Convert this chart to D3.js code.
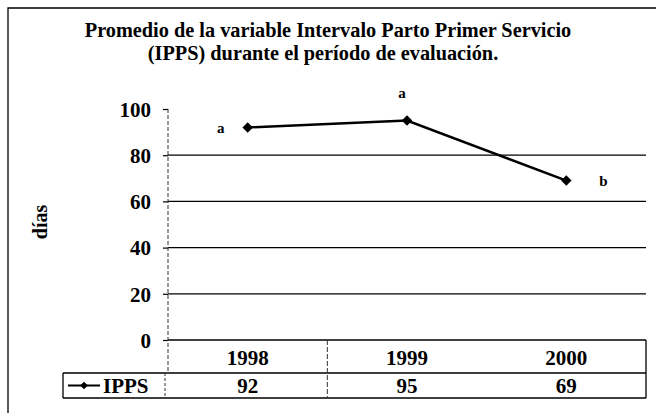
<!DOCTYPE html>
<html lang="es">
<head>
  <meta charset="utf-8">
  <title>IPPS</title>
  <script src="https://d3js.org/d3.v7.min.js"></script>
  <style>
    body { margin: 0; background: #fff; }
    svg text { font-family: "Liberation Serif", "DejaVu Serif", serif; font-weight: bold; fill: #000; }
  </style>
</head>
<body>
<svg width="656" height="413"></svg>
<script>
// data
var years = ["1998", "1999", "2000"];
var ipps = [92, 95, 69];
var letters = ["a", "a", "b"];
var yTicks = [0, 20, 40, 60, 80, 100];
var seriesName = "IPPS";

var svg = d3.select("svg");

// chart frame (right / bottom run off the page)
svg.append("path")
    .attr("d", "M8,420 V8 H670")
    .attr("fill", "none")
    .attr("stroke", "#000")
    .attr("stroke-width", 1.3);

// title
var title = svg.append("text")
    .attr("text-anchor", "middle")
    .style("font-size", "20.3px");
title.append("tspan").attr("x", 328).attr("y", 37)
    .text("Promedio de la variable Intervalo Parto Primer Servicio");
title.append("tspan").attr("x", 323).attr("y", 60)
    .text("(IPPS) durante el período de evaluación.");

var plotL = 168, plotR = 646, plotT = 109, plotB = 340;
var row1B = 373, row2B = 398, legendL = 63;

var x = d3.scaleBand().domain(years).range([plotL, plotR]);
var y = d3.scaleLinear().domain([0, 100]).range([plotB, plotT]);

// gridlines (none at 100)
svg.append("g").selectAll("line")
    .data(yTicks.filter(function(d) { return d < 100; }))
    .enter().append("line")
      .attr("x1", plotL).attr("x2", plotR)
      .attr("y1", function(d) { return y(d); })
      .attr("y2", function(d) { return y(d); })
      .attr("stroke", "#000")
      .attr("stroke-width", 1.3);

// y axis
var yAxis = svg.append("g")
    .attr("transform", "translate(" + plotL + ",0)")
    .call(d3.axisLeft(y).tickValues(yTicks).tickSize(5).tickPadding(12));
yAxis.select(".domain").remove();
yAxis.selectAll(".tick line").attr("stroke", "#000").attr("stroke-width", 1.2);
yAxis.selectAll(".tick text")
    .style("font-size", "21px")
    .style("font-family", "'Liberation Serif', serif")
    .style("font-weight", "bold")
    .attr("dy", "0.35em");

// dashed axis line continuing down through the year row
svg.append("line")
    .attr("x1", plotL).attr("x2", plotL)
    .attr("y1", plotT).attr("y2", row1B)
    .attr("stroke", "#333")
    .attr("stroke-width", 1)
    .attr("stroke-dasharray", "4,2");

// y axis title
svg.append("text")
    .attr("transform", "translate(47,222) rotate(-90)")
    .attr("text-anchor", "middle")
    .style("font-size", "20px")
    .text("días");

// data table below the plot
svg.append("path")
    .attr("d", "M" + legendL + "," + row1B + " H" + plotR +
               " M" + legendL + "," + row2B + " H" + plotR +
               " M" + legendL + "," + row1B + " V" + row2B +
               " M" + plotR + "," + plotB + " V" + row2B)
    .attr("fill", "none")
    .attr("stroke", "#000")
    .attr("stroke-width", 1.3);

svg.append("line")
    .attr("x1", x("1999")).attr("x2", x("1999"))
    .attr("y1", plotB).attr("y2", row2B)
    .attr("stroke", "#333")
    .attr("stroke-width", 1)
    .attr("stroke-dasharray", "5,2");

svg.append("g").selectAll("text")
    .data(years)
    .enter().append("text")
      .attr("x", function(d) { return x(d) + x.bandwidth() / 2; })
      .attr("y", (plotB + row1B) / 2 + 1)
      .attr("dy", "0.35em")
      .attr("text-anchor", "middle")
      .style("font-size", "21px")
      .text(function(d) { return d; });

svg.append("g").selectAll("text")
    .data(ipps)
    .enter().append("text")
      .attr("x", function(d, i) { return x(years[i]) + x.bandwidth() / 2; })
      .attr("y", (row1B + row2B) / 2)
      .attr("dy", "0.35em")
      .attr("text-anchor", "middle")
      .style("font-size", "21px")
      .text(function(d) { return d; });

// legend key in the table
var keyY = (row1B + row2B) / 2;
svg.append("line")
    .attr("x1", 68).attr("x2", 100)
    .attr("y1", keyY).attr("y2", keyY)
    .attr("stroke", "#000").attr("stroke-width", 2);
svg.append("path")
    .attr("d", d3.symbol().type(d3.symbolSquare).size(30)())
    .attr("transform", "translate(84," + keyY + ") rotate(45)");
svg.append("text")
    .attr("x", 103).attr("y", keyY)
    .attr("dy", "0.35em")
    .style("font-size", "21px")
    .text(seriesName);
svg.append("line")
    .attr("x1", 165).attr("x2", 165)
    .attr("y1", row1B).attr("y2", row2B)
    .attr("stroke", "#333").attr("stroke-width", 1)
    .attr("stroke-dasharray", "3,2");

// series line
var cx = function(d, i) { return x(years[i]) + x.bandwidth() / 2; };
svg.append("path")
    .datum(ipps)
    .attr("fill", "none")
    .attr("stroke", "#000")
    .attr("stroke-width", 2.5)
    .attr("d", d3.line().x(cx).y(function(d) { return y(d); }));

svg.append("g").selectAll("path")
    .data(ipps)
    .enter().append("path")
      .attr("d", d3.symbol().type(d3.symbolSquare).size(55)())
      .attr("transform", function(d, i) { return "translate(" + cx(d, i) + "," + y(d) + ") rotate(45)"; });

// significance letters: left, above, right of the point
var letterOffset = [[-27, 0], [-5, -28], [37, 0]];
svg.append("g").selectAll("text")
    .data(letters)
    .enter().append("text")
      .attr("x", function(d, i) { return cx(ipps[i], i) + letterOffset[i][0]; })
      .attr("y", function(d, i) { return y(ipps[i]) + letterOffset[i][1]; })
      .attr("dy", "0.35em")
      .attr("text-anchor", "middle")
      .style("font-size", "15px")
      .text(function(d) { return d; });
</script>
</body>
</html>
